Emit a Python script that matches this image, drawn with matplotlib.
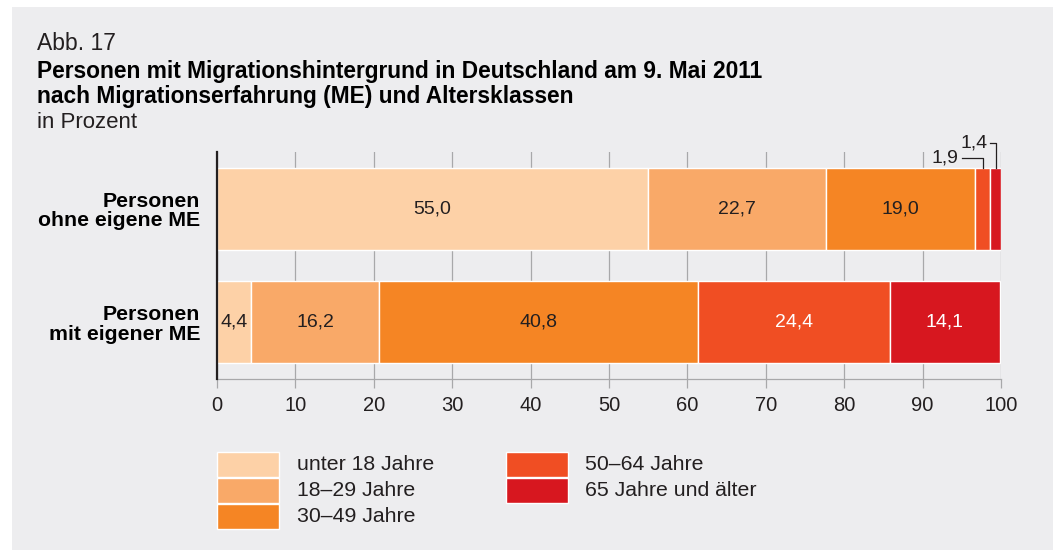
import matplotlib
matplotlib.use("Agg")
import matplotlib.pyplot as plt
from matplotlib.patches import Rectangle
import numpy as np

plt.rcParams['font.family'] = ['Liberation Sans', 'DejaVu Sans']

# ---- data ----
groups = ["Personen\nohne eigene ME", "Personen\nmit eigener ME"]
age_classes = ["unter 18 Jahre", "18–29 Jahre", "30–49 Jahre", "50–64 Jahre", "65 Jahre und älter"]
ohne_me = [55.0, 22.7, 19.0, 1.9, 1.4]
mit_me = [4.4, 16.2, 40.8, 24.4, 14.1]
x_ticks = [0, 10, 20, 30, 40, 50, 60, 70, 80, 90, 100]

colors = ["#FDD1A7", "#F9A968", "#F58524", "#F04E23", "#D7171F"]
label_colors = ["#231f20", "#231f20", "#231f20", "white", "white"]
TXT = "#231f20"
BG = "#EDEDEF"

W, H = 1053, 550
fig = plt.figure(figsize=(W / 100, H / 100), dpi=100)
fig.patch.set_facecolor("white")
fig.patches.append(Rectangle((12 / W, 0), 1, 1 - 7 / H, transform=fig.transFigure,
                             facecolor=BG, edgecolor="none", zorder=-10))

ax = fig.add_axes([217 / W, 1 - 379 / H, (1001 - 217) / W, (379 - 152) / H])
ax.set_facecolor("none")

values = np.array([ohne_me, mit_me])
ypos = np.arange(len(groups))
left = np.zeros(len(groups))
bar_h = 0.72
for i, cls in enumerate(age_classes):
    vals = values[:, i]
    ax.barh(ypos, vals, left=left, height=bar_h, color=colors[i],
            edgecolor="white", linewidth=1.0, zorder=3)
    for j in range(len(groups)):
        if vals[j] >= 3:
            ax.text(left[j] + vals[j] / 2, ypos[j],
                    f"{vals[j]:.1f}".replace(".", ","),
                    ha="center", va="center", fontsize=14,
                    color=label_colors[i], zorder=5)
    left += vals

# small-segment callouts (top bar)
cum = np.cumsum([0] + ohne_me)
top_edge = ypos[0] - bar_h / 2
# 1,9
c19 = (cum[3] + cum[4]) / 2
ax.plot([95.0, c19, c19], [-0.45, -0.45, top_edge], color=TXT, lw=0.9,
        clip_on=False, zorder=6)
ax.text(94.6, -0.45, "1,9", ha="right", va="center", fontsize=14, color=TXT,
        clip_on=False)
# 1,4
c14 = (cum[4] + cum[5]) / 2
ax.plot([98.6, c14, c14], [-0.58, -0.58, top_edge], color=TXT, lw=0.9,
        clip_on=False, zorder=6)
ax.text(98.3, -0.58, "1,4", ha="right", va="center", fontsize=14, color=TXT,
        clip_on=False)

ax.set_xlim(0, 100)
ax.set_ylim(1.5, -0.5)
ax.set_xticks(x_ticks)
ax.set_xticklabels([str(t) for t in x_ticks], fontsize=14.5, color=TXT)
ax.set_yticks(ypos)
ax.set_yticklabels(groups, fontsize=15.3, fontweight="bold", color="black")
for lab in ax.get_yticklabels():
    lab.set_multialignment("right")
    lab.set_linespacing(1.05)
ax.tick_params(axis="y", length=0, pad=12)
ax.tick_params(axis="x", length=6.5, width=0.9, color="#A8A8AA", pad=6)
ax.grid(axis="x", color="#A8A8AA", linewidth=0.9, zorder=0)
ax.set_axisbelow(True)
for s in ["top", "right"]:
    ax.spines[s].set_visible(False)
ax.spines["left"].set_color(TXT)
ax.spines["left"].set_linewidth(1.6)
ax.spines["left"].set_zorder(6)
ax.spines["bottom"].set_color("#A8A8AA")
ax.spines["bottom"].set_linewidth(0.9)

# titles
fig.text(37 / W, 1 - 44 / H, "Abb. 17", fontsize=16.5, color=TXT, va="center")
fig.text(37 / W, 1 - 71 / H, "Personen mit Migrationshintergrund in Deutschland am 9. Mai 2011",
         fontsize=16.4, fontweight="bold", color="black", va="center")
fig.text(37 / W, 1 - 96 / H, "nach Migrationserfahrung (ME) und Altersklassen",
         fontsize=16.4, fontweight="bold", color="black", va="center")
fig.text(37 / W, 1 - 122 / H, "in Prozent", fontsize=16, color=TXT, va="center")

# legend
leg_cols = [(217, 297), (506, 585)]
leg_rows = [452, 478, 504]
pw, ph = 62, 25
for k, cls in enumerate(age_classes):
    col, row = (0, k) if k < 3 else (1, k - 3)
    px, tx = leg_cols[col]
    py = leg_rows[row]
    fig.patches.append(Rectangle((px / W, 1 - (py + ph) / H), pw / W, ph / H,
                                 transform=fig.transFigure, facecolor=colors[k],
                                 edgecolor="white", linewidth=1.0))
    fig.text(tx / W, 1 - (py + ph / 2) / H, cls, fontsize=15.3, color=TXT, va="center")

fig.savefig("out.png", dpi=100, facecolor=fig.get_facecolor())
